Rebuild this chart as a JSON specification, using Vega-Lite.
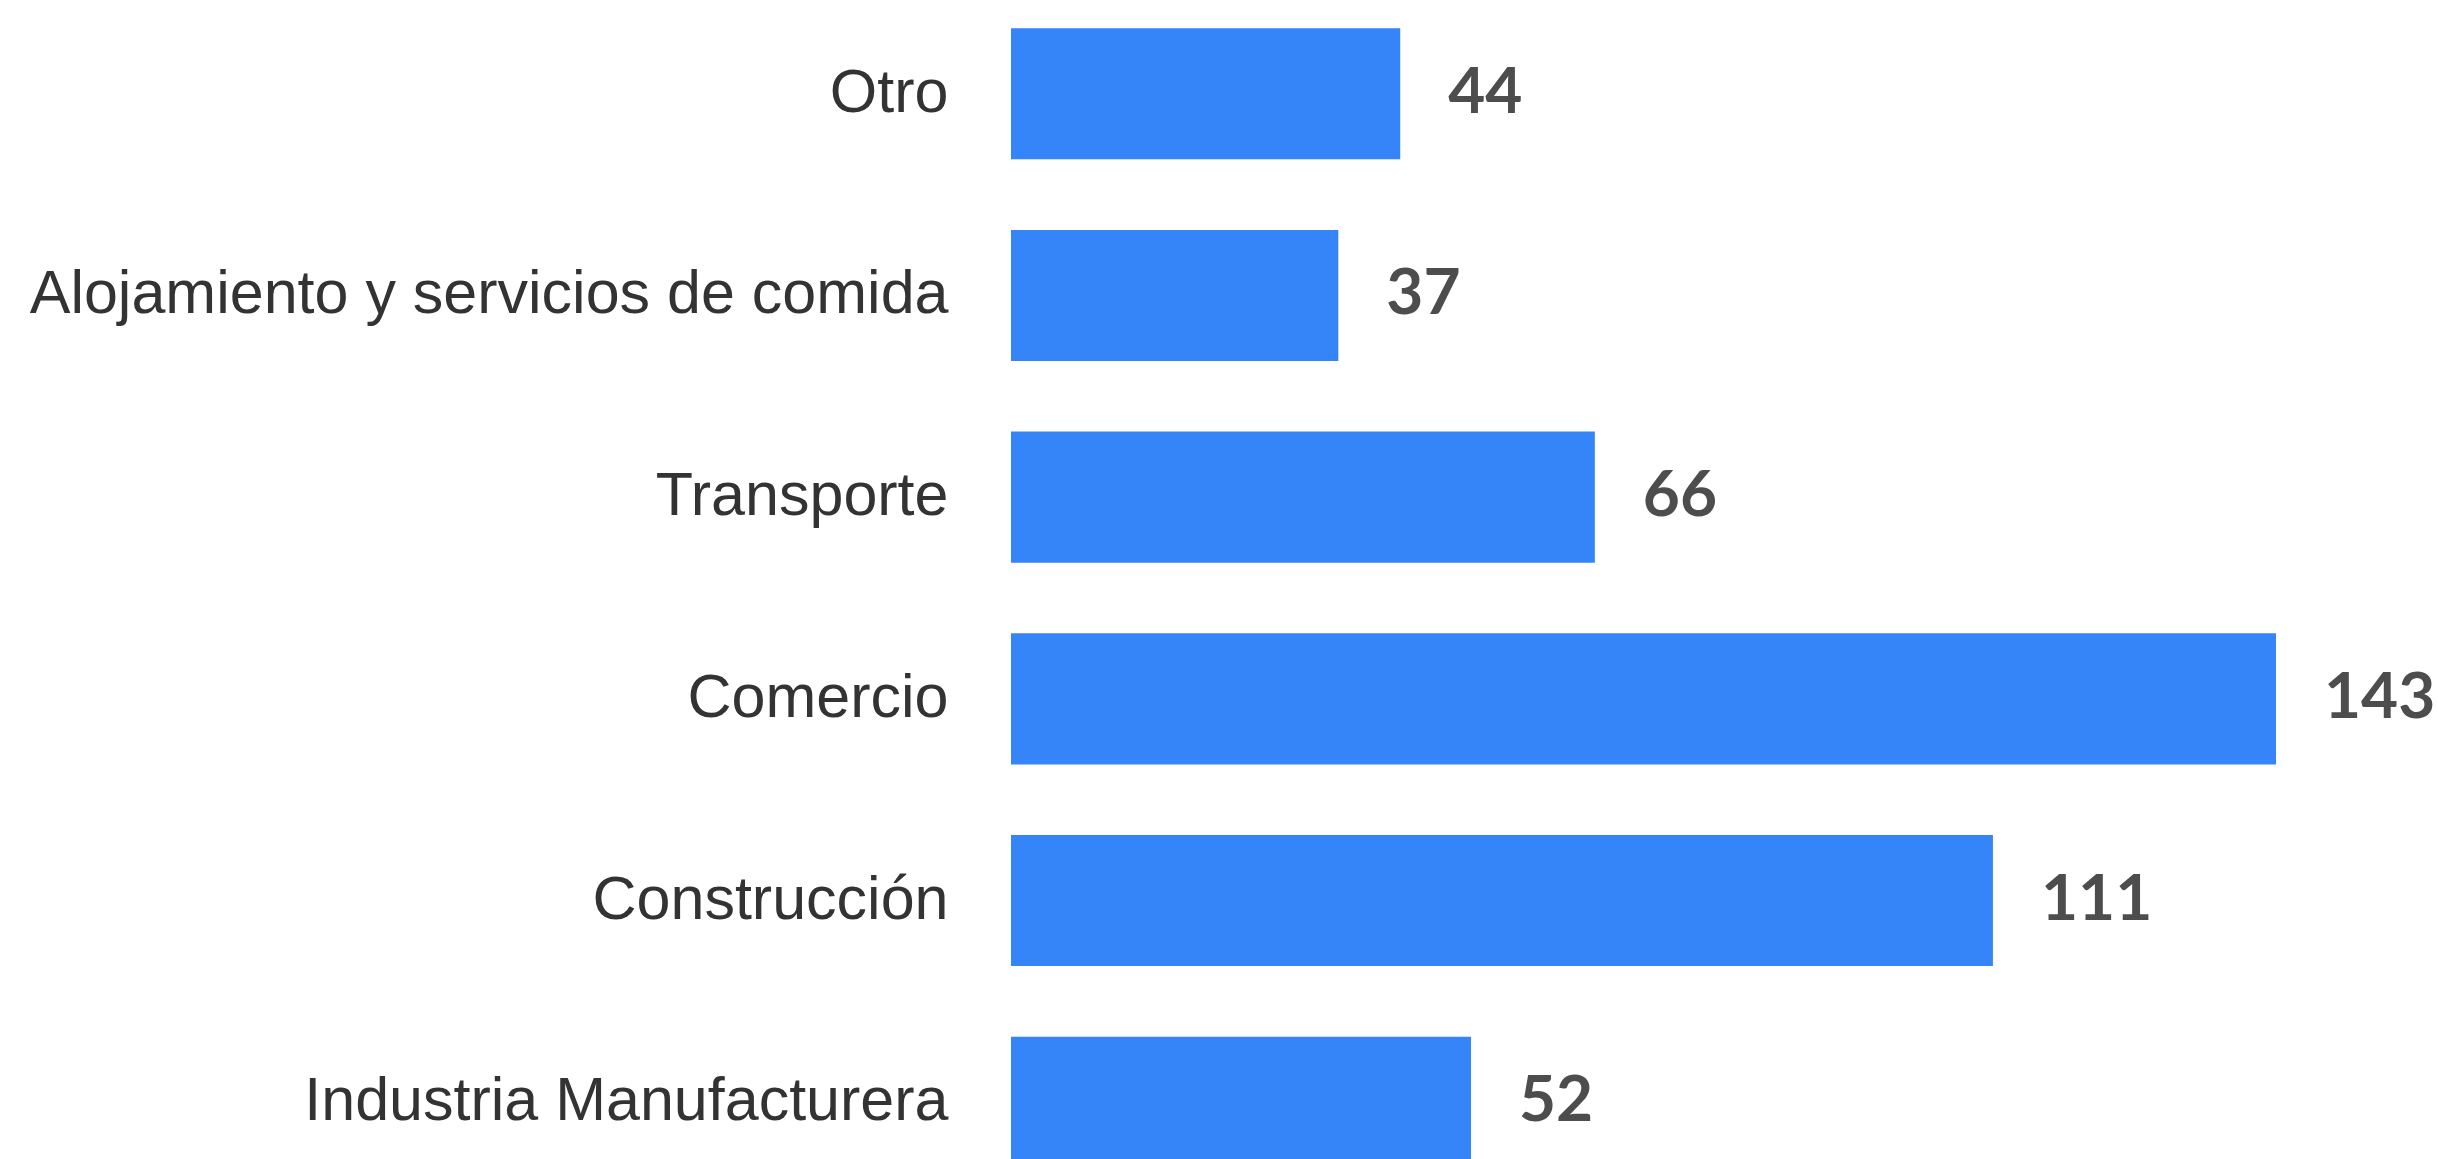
{
  "$schema": "https://vega.github.io/schema/vega-lite/v6.json",
  "autosize": {"type": "none"},
  "padding": {"left": 1011, "top": 0, "right": 162, "bottom": 0},
  "width": 1265,
  "height": 1196,
  "background": "#ffffff",
  "config": {"view": {"stroke": null}},
  "data": {
    "values": [
      {"sector": "Otro", "valor": 44},
      {"sector": "Alojamiento y servicios de comida", "valor": 37},
      {"sector": "Transporte", "valor": 66},
      {"sector": "Comercio", "valor": 143},
      {"sector": "Construcción", "valor": 111},
      {"sector": "Industria Manufacturera", "valor": 52}
    ]
  },
  "encoding": {
    "y": {
      "field": "sector",
      "type": "nominal",
      "sort": null,
      "scale": {"paddingInner": 0.35, "paddingOuter": 0.14},
      "axis": {
        "title": null,
        "ticks": false,
        "domain": false,
        "labelPadding": 63,
        "labelFont": "Liberation Sans",
        "labelFontSize": 61,
        "labelColor": "#333333",
        "labelLimit": 2000
      }
    },
    "x": {
      "field": "valor",
      "type": "quantitative",
      "scale": {"domain": [0, 143], "nice": false},
      "axis": null
    }
  },
  "layer": [
    {"mark": {"type": "bar", "color": "#3584F8"}},
    {
      "mark": {
        "type": "text",
        "align": "left",
        "baseline": "middle",
        "dx": 48,
        "font": "Lato",
        "fontWeight": "bold",
        "fontSize": 64,
        "color": "#4d4d4d"
      },
      "encoding": {"text": {"field": "valor", "type": "quantitative"}}
    }
  ]
}
